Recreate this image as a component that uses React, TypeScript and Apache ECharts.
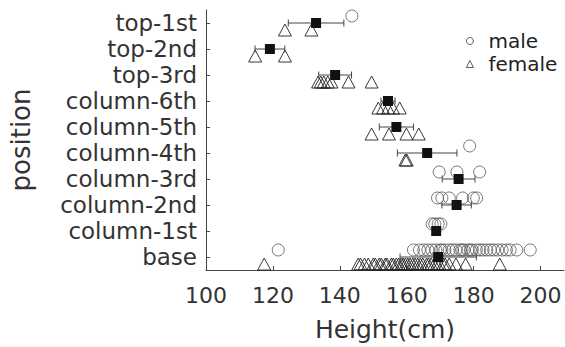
import React, { useEffect, useRef } from "react";
import * as echarts from "echarts";

const positions = [
  "base",
  "column-1st",
  "column-2nd",
  "column-3rd",
  "column-4th",
  "column-5th",
  "column-6th",
  "top-3rd",
  "top-2nd",
  "top-1st",
];

const maleHeights: number[][] = [
  [121.6, 162.0, 163.8, 165.1, 166.3, 167.5, 168.7, 170.0, 170.5, 171.4, 172.7, 173.7, 174.7, 175.9, 176.5, 177.1, 178.3, 179.0, 179.6, 180.8, 181.8, 182.8, 183.9, 185.0, 186.0, 187.2, 188.5, 189.8, 190.9, 192.9, 196.9],
  [167.6, 168.4, 169.4, 170.2],
  [169.2, 170.5, 172.7, 176.7, 179.9, 180.9],
  [169.7, 175.0, 181.8],
  [178.8],
  [],
  [],
  [],
  [],
  [143.6],
];

const femaleHeights: number[][] = [
  [117.4, 145.5, 146.2, 147.4, 148.5, 150.0, 150.6, 151.8, 152.4, 153.6, 154.1, 155.4, 156.0, 156.9, 157.6, 158.4, 158.9, 159.6, 160.3, 161.0, 161.8, 162.5, 163.3, 164.1, 164.8, 165.9, 166.5, 167.3, 168.2, 169.0, 169.8, 170.9, 171.5, 172.7, 174.7, 177.6, 187.8],
  [],
  [],
  [],
  [159.6, 160.0],
  [149.5, 154.7, 159.9, 163.6],
  [151.5, 152.9, 154.4, 155.9, 157.9],
  [133.5, 134.3, 135.2, 136.4, 137.5, 142.6, 149.5],
  [114.7, 123.6],
  [123.6, 131.5],
];

const meanHeights = [169.4, 168.8, 174.9, 175.5, 166.1, 156.9, 154.4, 138.6, 119.1, 132.9];
const sdHeights = [11.4, 1.0, 4.4, 4.9, 8.9, 5.1, 2.1, 4.9, 4.45, 8.3];
const xTicks = [100, 120, 140, 160, 180, 200];

const FONT = "DejaVu Sans";
const TEXT = "#333333";
const AXIS = "#444444";
const MALE_OFF = 0.27;
const FEMALE_OFF = -0.27;

export default function App() {
  const ref = useRef<HTMLDivElement>(null);

  useEffect(() => {
    if (!ref.current) return;
    const chart = echarts.init(ref.current, null, { renderer: "svg" });

    const maleData = maleHeights.flatMap((arr, i) => arr.map((v) => [v, i + 1 + MALE_OFF]));
    const femaleData = femaleHeights.flatMap((arr, i) => arr.map((v) => [v, i + 1 + FEMALE_OFF]));
    const meanData = meanHeights.map((m, i) => [m, i + 1]);
    const errData = meanHeights.map((m, i) => [m, i + 1, sdHeights[i]]);

    const option: any = {
      animation: false,
      backgroundColor: "#ffffff",
      textStyle: { fontFamily: FONT },
      grid: { left: 203, right: 1, top: 10, bottom: 70, containLabel: false },
      legend: {
        orient: "vertical",
        left: 461,
        top: 26,
        itemWidth: 7,
        itemHeight: 7,
        itemGap: 3,
        selectedMode: false,
        textStyle: { fontSize: 20, lineHeight: 20, color: "#222", fontFamily: FONT, padding: [0, 0, 0, 10] },
        data: [
          { name: "male", icon: "circle", itemStyle: { color: "#fff", borderColor: "#333", borderWidth: 0.8, opacity: 1 } },
          { name: "female", icon: "triangle", itemStyle: { color: "#fff", borderColor: "#333", borderWidth: 0.8, opacity: 1 } },
        ],
      },
      xAxis: {
        type: "value",
        min: 100,
        max: 207,
        splitLine: { show: false },
        axisLine: { show: true, lineStyle: { color: AXIS, width: 1 } },
        axisTick: { show: true, inside: true, length: 4, lineStyle: { color: AXIS }, customValues: xTicks },
        axisLabel: { fontSize: 22, color: TEXT, margin: 14, fontFamily: FONT, customValues: xTicks },
        name: "Height(cm)",
        nameLocation: "middle",
        nameGap: 47,
        nameTextStyle: { fontSize: 25, color: TEXT, fontFamily: FONT },
      },
      yAxis: [
        {
          type: "category",
          data: positions,
          boundaryGap: true,
          axisLine: { show: true, lineStyle: { color: AXIS, width: 1 } },
          axisTick: { show: true, alignWithLabel: true, inside: true, length: 4, lineStyle: { color: AXIS } },
          axisLabel: { interval: 0, fontSize: 23, color: TEXT, margin: 9, fontFamily: FONT },
          splitLine: { show: false },
          name: "position",
          nameLocation: "middle",
          nameGap: 172,
          nameRotate: 90,
          nameTextStyle: { fontSize: 26, color: TEXT, fontFamily: FONT },
        },
        {
          type: "value",
          min: 0.5,
          max: 10.5,
          show: false,
          splitLine: { show: false },
        },
      ],
      series: [
        {
          name: "male",
          type: "scatter",
          yAxisIndex: 1,
          symbol: "circle",
          symbolSize: 12,
          itemStyle: { color: "rgba(0,0,0,0)", borderColor: "#555", borderWidth: 0.8, opacity: 1 },
          data: maleData,
          z: 2,
        },
        {
          name: "female",
          type: "scatter",
          yAxisIndex: 1,
          symbol: "triangle",
          symbolSize: [13, 12],
          itemStyle: { color: "rgba(0,0,0,0)", borderColor: "#222", borderWidth: 0.9, opacity: 1 },
          data: femaleData,
          z: 2,
        },
        {
          name: "sd",
          type: "custom",
          yAxisIndex: 1,
          z: 3,
          data: errData,
          renderItem: (params: any, api: any) => {
            const m = api.value(0);
            const y = api.value(1);
            const e = api.value(2);
            const p1 = api.coord([m - e, y]);
            const p2 = api.coord([m + e, y]);
            const h = 3.5;
            const st = { stroke: "#444", lineWidth: 1 };
            return {
              type: "group",
              children: [
                { type: "line", shape: { x1: p1[0], y1: p1[1], x2: p2[0], y2: p2[1] }, style: st },
                { type: "line", shape: { x1: p1[0], y1: p1[1] - h, x2: p1[0], y2: p1[1] + h }, style: st },
                { type: "line", shape: { x1: p2[0], y1: p2[1] - h, x2: p2[0], y2: p2[1] + h }, style: st },
              ],
            };
          },
        },
        {
          name: "mean",
          type: "scatter",
          yAxisIndex: 1,
          symbol: "rect",
          symbolSize: 10,
          itemStyle: { color: "#111", opacity: 1 },
          data: meanData,
          z: 4,
        },
      ],
    };

    chart.setOption(option);
    return () => chart.dispose();
  }, []);

  return (
    <div
      ref={ref}
      style={{ position: "fixed", left: 0, top: 0, width: 565, height: 347 }}
    />
  );
}
